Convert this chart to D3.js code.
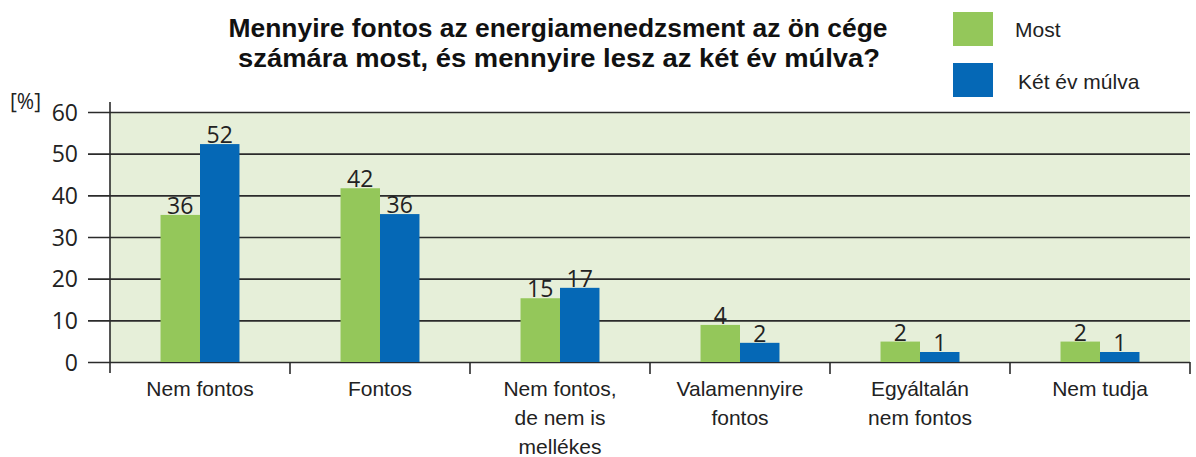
<!DOCTYPE html>
<html>
<head>
<meta charset="utf-8">
<script src="https://cdn.jsdelivr.net/npm/d3@7"></script>
<style>
  body { margin: 0; background: #fff; }
  svg { display: block; }
</style>
</head>
<body>
<script>
const categories = [
  ["Nem fontos"],
  ["Fontos"],
  ["Nem fontos,", "de nem is", "mellékes"],
  ["Valamennyire", "fontos"],
  ["Egyáltalán", "nem fontos"],
  ["Nem tudja"]
];
const seriesNames = ["Most", "Két év múlva"];
// value labels as printed
const mostLabels = [36, 42, 15, 4, 2, 2];
const laterLabels = [52, 36, 17, 2, 1, 1];
// bar heights as drawn in the picture
const mostHeights = [35.3, 41.7, 15.3, 8.9, 4.9, 4.9];
const laterHeights = [52.3, 35.5, 17.8, 4.6, 2.4, 2.4];
const yTicks = [0, 10, 20, 30, 40, 50, 60];

const width = 1196;
const height = 457;
const margin = { top: 112, right: 6, bottom: 95, left: 110 };
const colors = ["#94c75a", "#0568b6"];

const svg = d3.select("body")
  .append("svg")
  .attr("width", width)
  .attr("height", height);

const x = d3.scaleBand()
  .domain(d3.range(categories.length))
  .range([margin.left, width - margin.right]);

const y = d3.scaleLinear()
  .domain([0, 60])
  .range([height - margin.bottom, margin.top]);

const x1 = d3.scaleBand()
  .domain([0, 1])
  .range([0, x.bandwidth()])
  .paddingInner(0)
  .paddingOuter(1.28);

// plot background
svg.append("rect")
  .attr("x", margin.left)
  .attr("y", y(60))
  .attr("width", width - margin.right - margin.left)
  .attr("height", y(0) - y(60))
  .attr("fill", "#e6efd9");

// gridlines + y ticks
const yAxis = svg.append("g")
  .attr("transform", `translate(${margin.left},0)`)
  .call(d3.axisLeft(y).tickValues(yTicks).tickSize(-(width - margin.right - margin.left)).tickPadding(32));
yAxis.select(".domain").remove();
yAxis.selectAll(".tick line")
  .attr("x1", -22)
  .attr("stroke", "#2b2b2b")
  .attr("stroke-width", 1.6);
yAxis.selectAll(".tick text")
  .attr("font-family", "'Open Sans', sans-serif")
  .attr("font-size", 23)
  .attr("fill", "#222")
  .attr("dy", "0.36em");

// y axis line
svg.append("line")
  .attr("x1", margin.left).attr("x2", margin.left)
  .attr("y1", y(60) - 10).attr("y2", y(0) + 11)
  .attr("stroke", "#2b2b2b")
  .attr("stroke-width", 1.6);

// category ticks
svg.append("g")
  .selectAll("line")
  .data(d3.range(1, categories.length + 1))
  .join("line")
  .attr("x1", d => margin.left + d * x.step())
  .attr("x2", d => margin.left + d * x.step())
  .attr("y1", y(0))
  .attr("y2", y(0) + 12)
  .attr("stroke", "#2b2b2b")
  .attr("stroke-width", 1.6);

svg.append("text")
  .attr("x", 10)
  .attr("y", 109)
  .attr("font-family", "'Open Sans', sans-serif")
  .attr("font-size", 21)
  .attr("fill", "#222")
  .text("[%]");

// bars
const series = [
  { heights: mostHeights, labels: mostLabels },
  { heights: laterHeights, labels: laterLabels }
];

series.forEach((s, si) => {
  const g = svg.append("g");
  g.selectAll("rect")
    .data(s.heights)
    .join("rect")
    .attr("x", (d, i) => x(i) + x1(si))
    .attr("width", x1.bandwidth())
    .attr("y", d => y(d))
    .attr("height", d => y(0) - y(d))
    .attr("fill", colors[si]);

  g.selectAll("text")
    .data(s.labels)
    .join("text")
    .attr("x", (d, i) => x(i) + x1(si) + x1.bandwidth() / 2)
    .attr("y", (d, i) => y(s.heights[i]) - 1)
    .attr("text-anchor", "middle")
    .attr("font-family", "'Open Sans', sans-serif")
    .attr("font-size", 23)
    .attr("fill", "#222")
    .text(d => d);
});

// category labels
svg.append("g")
  .selectAll("text")
  .data(categories)
  .join("text")
  .attr("text-anchor", "middle")
  .attr("font-family", "'Liberation Sans', Arial, sans-serif")
  .attr("font-size", 21)
  .attr("fill", "#222")
  .each(function(lines, i) {
    d3.select(this).selectAll("tspan")
      .data(lines)
      .join("tspan")
      .attr("x", x(i) + x.bandwidth() / 2)
      .attr("y", (d, j) => 396 + j * 29)
      .text(d => d);
  });

// title
const titleLines = [
  { text: "Mennyire fontos az energiamenedzsment az ön cége", x: 558, y: 37, w: 659 },
  { text: "számára most, és mennyire lesz az két év múlva?", x: 559, y: 67, w: 642 }
];
svg.append("g")
  .selectAll("text")
  .data(titleLines)
  .join("text")
  .attr("x", d => d.x)
  .attr("y", d => d.y)
  .attr("text-anchor", "middle")
  .attr("font-family", "'Liberation Sans', Arial, sans-serif")
  .attr("font-weight", "bold")
  .attr("font-size", 26)
  .attr("fill", "#111")
  .attr("textLength", d => d.w)
  .attr("lengthAdjust", "spacingAndGlyphs")
  .text(d => d.text);

// legend
const legend = svg.append("g");
legend.selectAll("rect")
  .data(seriesNames)
  .join("rect")
  .attr("x", 953)
  .attr("y", (d, i) => 12 + i * 51)
  .attr("width", 40)
  .attr("height", 34)
  .attr("fill", (d, i) => colors[i]);
legend.selectAll("text")
  .data(seriesNames)
  .join("text")
  .attr("x", (d, i) => 1015 + i * 3)
  .attr("y", (d, i) => 37 + i * 52)
  .attr("font-family", "'Liberation Sans', Arial, sans-serif")
  .attr("font-size", 21)
  .attr("fill", "#222")
  .text(d => d);
</script>
</body>
</html>
